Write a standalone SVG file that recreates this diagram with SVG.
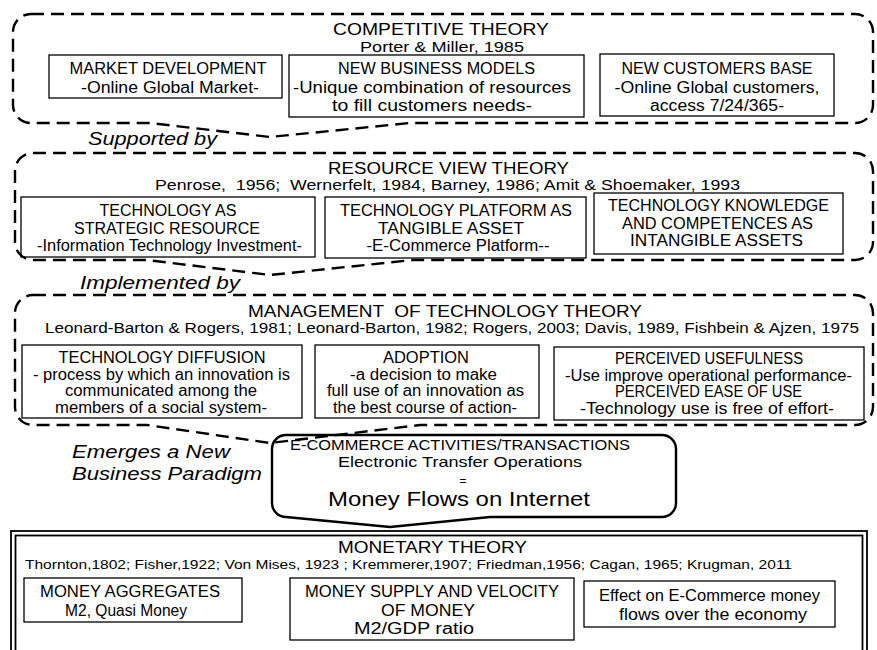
<svg xmlns="http://www.w3.org/2000/svg" width="877" height="650" viewBox="0 0 877 650">
<style>
text{font-family:"Liberation Sans",Arial,sans-serif;fill:#000;text-anchor:middle}
.dash{fill:none;stroke:#000;stroke-width:2.4;stroke-dasharray:13 7}
.box{fill:none;stroke:#000;stroke-width:1.3}
.solid{fill:none;stroke:#000;stroke-width:2.4}
.dbl{fill:none;stroke:#000;stroke-width:1.8}
.t{font-size:16.3px}
.b{font-size:15.8px}
.r{font-size:14px}
.i{font-size:17.5px;font-style:italic;text-anchor:start}
</style>
<rect width="877" height="650" fill="#fff"/>

<g id="competitive-theory">
<path class="dash" d="M31,14 H855 A18,18 0 0 1 873,32 V105 A18,18 0 0 1 855,123 H410 L270,137 L150,123 H31 A18,18 0 0 1 13,105 V32 A18,18 0 0 1 31,14 Z"/>
<text class="t" x="441" y="35" textLength="216" lengthAdjust="spacingAndGlyphs">COMPETITIVE THEORY</text>
<text class="r" x="442" y="52" textLength="164" lengthAdjust="spacingAndGlyphs">Porter &amp; Miller, 1985</text>
<g id="market-development">
<rect class="box" x="49" y="55" width="233" height="43"/>
<text class="b" x="168" y="74" textLength="197" lengthAdjust="spacingAndGlyphs">MARKET DEVELOPMENT</text>
<text class="b" x="170" y="92.5" textLength="178" lengthAdjust="spacingAndGlyphs">-Online Global Market-</text>
</g>
<g id="new-business-models">
<rect class="box" x="289" y="55" width="295" height="62"/>
<text class="b" x="436.5" y="74" textLength="197" lengthAdjust="spacingAndGlyphs">NEW BUSINESS MODELS</text>
<text class="b" x="432" y="92.5" textLength="278" lengthAdjust="spacingAndGlyphs">-Unique combination of resources</text>
<text class="b" x="432" y="111" textLength="200" lengthAdjust="spacingAndGlyphs">to fill customers needs-</text>
</g>
<g id="new-customers-base">
<rect class="box" x="600" y="54" width="234" height="62"/>
<text class="b" x="717" y="74" textLength="191" lengthAdjust="spacingAndGlyphs">NEW CUSTOMERS BASE</text>
<text class="b" x="717" y="92.5" textLength="205" lengthAdjust="spacingAndGlyphs">-Online Global customers,</text>
<text class="b" x="717" y="111" textLength="134" lengthAdjust="spacingAndGlyphs">access 7/24/365-</text>
</g>
</g>

<g id="resource-view-theory">
<path class="dash" d="M33,153 H855 A18,18 0 0 1 873,171 V242 A18,18 0 0 1 855,260 H413 L270,275 L147,260 H33 A18,18 0 0 1 15,242 V171 A18,18 0 0 1 33,153 Z"/>
<text class="t" x="448.5" y="174" textLength="241" lengthAdjust="spacingAndGlyphs">RESOURCE VIEW THEORY</text>
<text class="r" x="447.5" y="190" textLength="585" lengthAdjust="spacingAndGlyphs" xml:space="preserve">Penrose,  1956;  Wernerfelt, 1984, Barney, 1986; Amit &amp; Shoemaker, 1993</text>
<g id="technology-strategic-resource">
<rect class="box" x="21" y="197" width="294" height="60"/>
<text class="b" x="168" y="216" textLength="137" lengthAdjust="spacingAndGlyphs">TECHNOLOGY AS</text>
<text class="b" x="167" y="233.5" textLength="186" lengthAdjust="spacingAndGlyphs">STRATEGIC RESOURCE</text>
<text class="b" x="169.5" y="251" textLength="265" lengthAdjust="spacingAndGlyphs">-Information Technology Investment-</text>
</g>
<g id="technology-platform">
<rect class="box" x="325" y="197" width="261" height="61"/>
<text class="b" x="456" y="216" textLength="232" lengthAdjust="spacingAndGlyphs">TECHNOLOGY PLATFORM AS</text>
<text class="b" x="451" y="233.5" textLength="146" lengthAdjust="spacingAndGlyphs">TANGIBLE ASSET</text>
<text class="b" x="458" y="251" textLength="183" lengthAdjust="spacingAndGlyphs">-E-Commerce Platform--</text>
</g>
<g id="technology-knowledge">
<rect class="box" x="594" y="193" width="249" height="61"/>
<text class="b" x="718.5" y="211" textLength="221" lengthAdjust="spacingAndGlyphs">TECHNOLOGY KNOWLEDGE</text>
<text class="b" x="717.5" y="228.5" textLength="191" lengthAdjust="spacingAndGlyphs">AND COMPETENCES AS</text>
<text class="b" x="716.5" y="246" textLength="173" lengthAdjust="spacingAndGlyphs">INTANGIBLE ASSETS</text>
</g>
</g>

<g id="management-technology-theory">
<path class="dash" d="M33,295 H855 A18,18 0 0 1 873,313 V407 A18,18 0 0 1 855,425 H420 L270,443 L147,425 H33 A18,18 0 0 1 15,407 V313 A18,18 0 0 1 33,295 Z"/>
<text class="t" x="445" y="317" textLength="394" lengthAdjust="spacingAndGlyphs" xml:space="preserve">MANAGEMENT  OF TECHNOLOGY THEORY</text>
<text class="r" x="452" y="333" textLength="814" lengthAdjust="spacingAndGlyphs">Leonard-Barton &amp; Rogers, 1981; Leonard-Barton, 1982; Rogers, 2003; Davis, 1989, Fishbein &amp; Ajzen, 1975</text>
<g id="technology-diffusion">
<rect class="box" x="22" y="345" width="280" height="73"/>
<text class="b" x="162" y="363" textLength="207" lengthAdjust="spacingAndGlyphs">TECHNOLOGY DIFFUSION</text>
<text class="b" x="161.5" y="379.5" textLength="257" lengthAdjust="spacingAndGlyphs">- process by which an innovation is</text>
<text class="b" x="161" y="396" textLength="192" lengthAdjust="spacingAndGlyphs">communicated among the</text>
<text class="b" x="161" y="412.5" textLength="212" lengthAdjust="spacingAndGlyphs">members of a social system-</text>
</g>
<g id="adoption">
<rect class="box" x="315" y="345" width="224" height="73"/>
<text class="b" x="426" y="363" textLength="86" lengthAdjust="spacingAndGlyphs">ADOPTION</text>
<text class="b" x="423.5" y="379.5" textLength="147" lengthAdjust="spacingAndGlyphs">-a decision to make</text>
<text class="b" x="425.5" y="396" textLength="197" lengthAdjust="spacingAndGlyphs">full use of an innovation as</text>
<text class="b" x="425" y="412.5" textLength="184" lengthAdjust="spacingAndGlyphs">the best course of action-</text>
</g>
<g id="perceived-usefulness">
<rect class="box" x="554" y="347" width="310" height="73"/>
<text class="b" x="709" y="364" textLength="188" lengthAdjust="spacingAndGlyphs">PERCEIVED USEFULNESS</text>
<text class="b" x="708.5" y="380.5" textLength="287" lengthAdjust="spacingAndGlyphs">-Use improve operational performance-</text>
<text class="b" x="708.5" y="397" textLength="187" lengthAdjust="spacingAndGlyphs">PERCEIVED EASE OF USE</text>
<text class="b" x="707" y="413.5" textLength="254" lengthAdjust="spacingAndGlyphs">-Technology use is free of effort-</text>
</g>
</g>

<g id="ecommerce-activities">
<path class="solid" d="M286,435 H662 A14,14 0 0 1 676,449 V503 A14,14 0 0 1 662,517 H490 L390,527 L286,517 A14,14 0 0 1 272,503 V449 A14,14 0 0 1 286,435 Z"/>
<text x="460" y="450" textLength="340" lengthAdjust="spacingAndGlyphs" style="font-size:14.5px">E-COMMERCE ACTIVITIES/TRANSACTIONS</text>
<text x="460" y="467" textLength="244" lengthAdjust="spacingAndGlyphs" style="font-size:14.5px">Electronic Transfer Operations</text>
<text x="463" y="485" style="font-size:12px">=</text>
<text x="459" y="506" textLength="262" lengthAdjust="spacingAndGlyphs" style="font-size:19.5px">Money Flows on Internet</text>
</g>

<g id="monetary-theory">
<rect class="dbl" x="11" y="531" width="856" height="140"/>
<rect class="dbl" x="15.5" y="535.5" width="847" height="140"/>
<text class="t" x="432.5" y="553" textLength="189" lengthAdjust="spacingAndGlyphs">MONETARY THEORY</text>
<text class="r" x="408.5" y="569" textLength="767" lengthAdjust="spacingAndGlyphs" style="font-size:13.5px">Thornton,1802; Fisher,1922; Von Mises, 1923 ; Kremmerer,1907; Friedman,1956; Cagan, 1965; Krugman, 2011</text>
<g id="money-aggregates">
<rect class="box" x="24" y="578" width="218" height="44"/>
<text class="b" x="130" y="597" textLength="180" lengthAdjust="spacingAndGlyphs">MONEY AGGREGATES</text>
<text class="b" x="126" y="615.5" textLength="122" lengthAdjust="spacingAndGlyphs">M2, Quasi Money</text>
</g>
<g id="money-supply">
<rect class="box" x="290" y="578" width="284" height="62"/>
<text class="b" x="432" y="597" textLength="254" lengthAdjust="spacingAndGlyphs">MONEY SUPPLY AND VELOCITY</text>
<text class="b" x="428" y="615.5" textLength="94" lengthAdjust="spacingAndGlyphs">OF MONEY</text>
<text class="b" x="414" y="634" textLength="120" lengthAdjust="spacingAndGlyphs">M2/GDP ratio</text>
</g>
<g id="effect-ecommerce">
<rect class="box" x="584" y="581" width="251" height="46"/>
<text class="b" x="709.5" y="601" textLength="221" lengthAdjust="spacingAndGlyphs">Effect on E-Commerce money</text>
<text class="b" x="713" y="620" textLength="188" lengthAdjust="spacingAndGlyphs">flows over the economy</text>
</g>
</g>

<g id="connectors">
<text class="i" x="88" y="145" textLength="129" lengthAdjust="spacingAndGlyphs">Supported by</text>
<text class="i" x="80" y="289" textLength="160" lengthAdjust="spacingAndGlyphs">Implemented by</text>
<text class="i" x="72" y="458" textLength="158" lengthAdjust="spacingAndGlyphs" style="font-size:18px">Emerges a New</text>
<text class="i" x="72" y="480" textLength="190" lengthAdjust="spacingAndGlyphs" style="font-size:18px">Business Paradigm</text>
</g>
</svg>
